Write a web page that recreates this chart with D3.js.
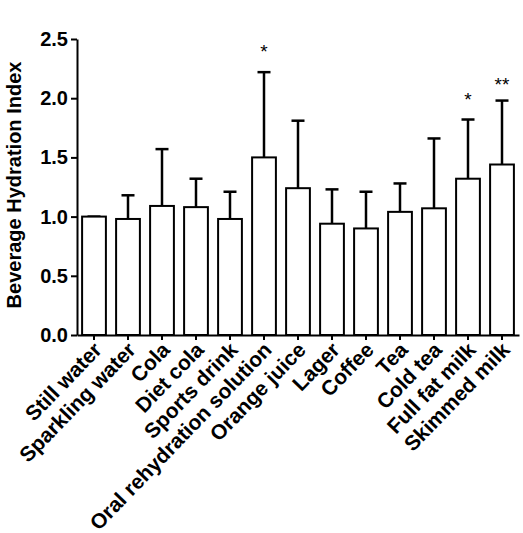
<!DOCTYPE html>
<html>
<head>
<meta charset="utf-8">
<script src="https://cdn.jsdelivr.net/npm/d3@7"></script>
<style>
  body { margin: 0; background: #fff; }
  svg { display: block; font-family: "Liberation Sans", Arial, sans-serif; }
</style>
</head>
<body>
<div id="chart"></div>
<script>
var beverages = ["Still water", "Sparkling water", "Cola", "Diet cola", "Sports drink",
    "Oral rehydration solution", "Orange juice", "Lager", "Coffee", "Tea",
    "Cold tea", "Full fat milk", "Skimmed milk"];
var meanBHI = [1.00, 0.98, 1.09, 1.08, 0.98, 1.50, 1.24, 0.94, 0.90, 1.04, 1.07, 1.32, 1.44];
var upperSD = [1.00, 1.18, 1.57, 1.32, 1.21, 2.22, 1.81, 1.23, 1.21, 1.28, 1.66, 1.82, 1.98];
var marks = ["", "", "", "", "", "*", "", "", "", "", "", "*", "**"];
var yTicks = [0, 0.5, 1.0, 1.5, 2.0, 2.5];

var margin = {top: 39, right: 4, bottom: 198, left: 77},
    width = 523 - margin.left - margin.right,
    height = 533 - margin.top - margin.bottom;

var svg = d3.select("#chart").append("svg")
    .attr("width", 523)
    .attr("height", 533)
    .append("g")
    .attr("transform", "translate(" + margin.left + "," + margin.top + ")");

var x = d3.scaleBand().domain(beverages).range([0, width]).paddingInner(0.3).paddingOuter(0.15);
var y = d3.scaleLinear().domain([0, 2.5]).range([height, 0]);

var data = beverages.map(function(b, i) {
    return {name: b, mean: meanBHI[i], upper: upperSD[i], mark: marks[i]};
});

// error bars first, so bar outlines sit on top
var err = svg.selectAll(".err").data(data).enter().append("g");
err.append("line")
    .attr("x1", function(d) { return x(d.name) + x.bandwidth() / 2; })
    .attr("x2", function(d) { return x(d.name) + x.bandwidth() / 2; })
    .attr("y1", function(d) { return y(d.mean); })
    .attr("y2", function(d) { return y(d.upper); })
    .attr("stroke", "#000").attr("stroke-width", 2.5);
err.append("line")
    .attr("x1", function(d) { return x(d.name) + x.bandwidth() / 2 - 6.5; })
    .attr("x2", function(d) { return x(d.name) + x.bandwidth() / 2 + 6.5; })
    .attr("y1", function(d) { return y(d.upper); })
    .attr("y2", function(d) { return y(d.upper); })
    .attr("stroke", "#000").attr("stroke-width", 2.5);

svg.selectAll(".bar").data(data).enter().append("rect")
    .attr("x", function(d) { return x(d.name); })
    .attr("width", x.bandwidth())
    .attr("y", function(d) { return y(d.mean); })
    .attr("height", function(d) { return height - y(d.mean); })
    .attr("fill", "#fff")
    .attr("stroke", "#000")
    .attr("stroke-width", 2);

svg.selectAll(".mark").data(data).enter().append("text")
    .attr("x", function(d) { return x(d.name) + x.bandwidth() / 2; })
    .attr("y", function(d) { return y(d.upper) - (d.mark.length > 1 ? 10 : 14); })
    .attr("text-anchor", "middle")
    .attr("font-size", 19)
    .text(function(d) { return d.mark; });

var yAxis = svg.append("g")
    .call(d3.axisLeft(y).tickValues(yTicks).tickFormat(d3.format(".1f")).tickSize(6).tickSizeOuter(0));
yAxis.selectAll("text").attr("font-size", 20).attr("font-weight", "bold").attr("fill", "#000");
yAxis.selectAll("line, path").attr("stroke", "#000").attr("stroke-width", 2);

var xAxis = svg.append("g")
    .attr("transform", "translate(0," + height + ")")
    .call(d3.axisBottom(x).tickSize(5).tickSizeOuter(0));
xAxis.selectAll("line, path").attr("stroke", "#000").attr("stroke-width", 2);
xAxis.selectAll("text")
    .attr("font-size", 21)
    .attr("font-weight", "bold")
    .attr("fill", "#000")
    .attr("text-anchor", "end")
    .attr("dy", null)
    .attr("y", 0)
    .attr("transform", "translate(9,16) rotate(-46)");

svg.append("text")
    .attr("transform", "translate(" + (-56) + "," + (height / 2 - 2) + ") rotate(-90)")
    .attr("text-anchor", "middle")
    .attr("font-size", 20)
    .attr("font-weight", "bold")
    .text("Beverage Hydration Index");
</script>
</body>
</html>
